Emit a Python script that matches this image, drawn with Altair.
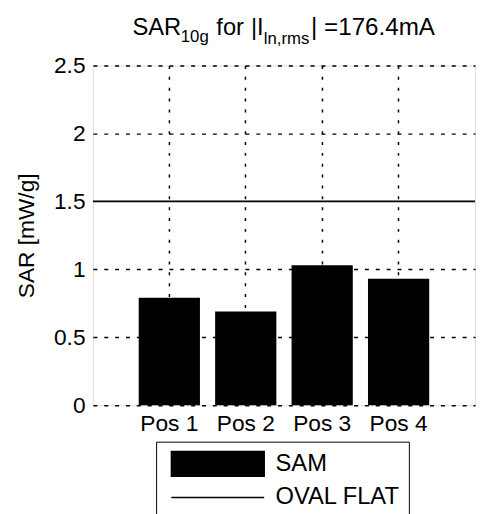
import altair as alt
import pandas as pd

positions = ["Pos 1", "Pos 2", "Pos 3", "Pos 4"]
sam_values = [0.79, 0.69, 1.03, 0.93]
oval_flat_level = [1.5]
series_names = ["SAM", "OVAL FLAT"]
y_ticks = [0, 0.5, 1, 1.5, 2, 2.5]

FONT = "Liberation Sans"
FS = 23

bars_df = pd.DataFrame({"pos": positions, "sar": sam_values, "series": "SAM"})
rule_df = pd.DataFrame({"sar": oval_flat_level, "series": "OVAL FLAT"})

color = alt.Color(
    "series:N",
    scale=alt.Scale(domain=series_names, range=["black", "black"]),
    legend=alt.Legend(
        title=None,
        orient="none",
        legendX=64,
        legendY=381,
        direction="vertical",
        strokeColor="black",
        fillColor="white",
        padding=9,
        labelFont=FONT,
        labelFontSize=24,
        labelColor="black",
        labelOffset=45,
        symbolSize=625,
        symbolOffset=40,
        symbolType={"expr": "datum.value == 'SAM' ? 'M-3.76,-1H3.76V1H-3.76Z' : 'M-3.76,0H3.76'"},
        symbolFillColor="black",
        symbolStrokeColor="black",
        symbolStrokeWidth=1.5,
        symbolOpacity=1,
        rowPadding=5,
    ),
)

x_enc = alt.X(
    "pos:N",
    sort=positions,
    scale=alt.Scale(paddingInner=0.2, paddingOuter=0.6),
    axis=alt.Axis(
        title=None,
        labelAngle=0,
        grid=True,
        bandPosition=0.5,
        gridDash=[3, 8],
        gridColor="black",
        gridOpacity=1,
        gridWidth=1.5,
        ticks=False,
        domain=False,
        labelFont=FONT,
        labelFontSize=FS,
        labelColor="black",
        labelPadding=8,
    ),
)

y_enc = alt.Y(
    "sar:Q",
    scale=alt.Scale(domain=[0, 2.5], nice=False),
    axis=alt.Axis(
        title="SAR [mW/g]",
        values=y_ticks,
        format="~g",
        grid=True,
        gridDash=[4, 7],
        gridColor="black",
        gridOpacity={"condition": {"test": "datum.value == 1.5", "value": 0}, "value": 1},
        gridWidth=1.5,
        ticks=False,
        domain=False,
        labelFont=FONT,
        labelFontSize=FS,
        labelColor="black",
        labelPadding=8,
        titleFont=FONT,
        titleFontSize=FS,
        titleFontWeight="normal",
        titleColor="black",
        titlePadding=15,
    ),
)

bars = alt.Chart(bars_df).mark_bar(size=62, opacity=1).encode(x=x_enc, y=y_enc, color=color)
rule = alt.Chart(rule_df).mark_rule(strokeWidth=1.7).encode(y="sar:Q", color=color)

one = alt.Data(values=[{}])


def piece(txt, x, y, size):
    return alt.Chart(one).mark_text(
        text=txt, align="left", baseline="alphabetic", font=FONT, fontSize=size, color="black"
    ).encode(x=alt.value(x), y=alt.value(y))


title_parts = [
    piece("SAR", 40, -31, 24),
    piece("10g", 89, -24, 17),
    piece("for", 125, -31, 24),
    piece("|I", 160, -31, 24),
    piece("ln,rms", 173, -22, 17),
    piece("| =176.4mA", 221, -31, 24.5),
]

chart = alt.layer(bars, rule, *title_parts).properties(
    width=387,
    height=344,
    autosize=alt.AutoSizeParams(type="none"),
    padding={"left": 86, "top": 55, "right": 1, "bottom": 107},
).configure_view(stroke="black", strokeWidth=1.5, fill="white").configure(background="white")

chart.save("out.html", embed_options={"renderer": "svg", "actions": False})
